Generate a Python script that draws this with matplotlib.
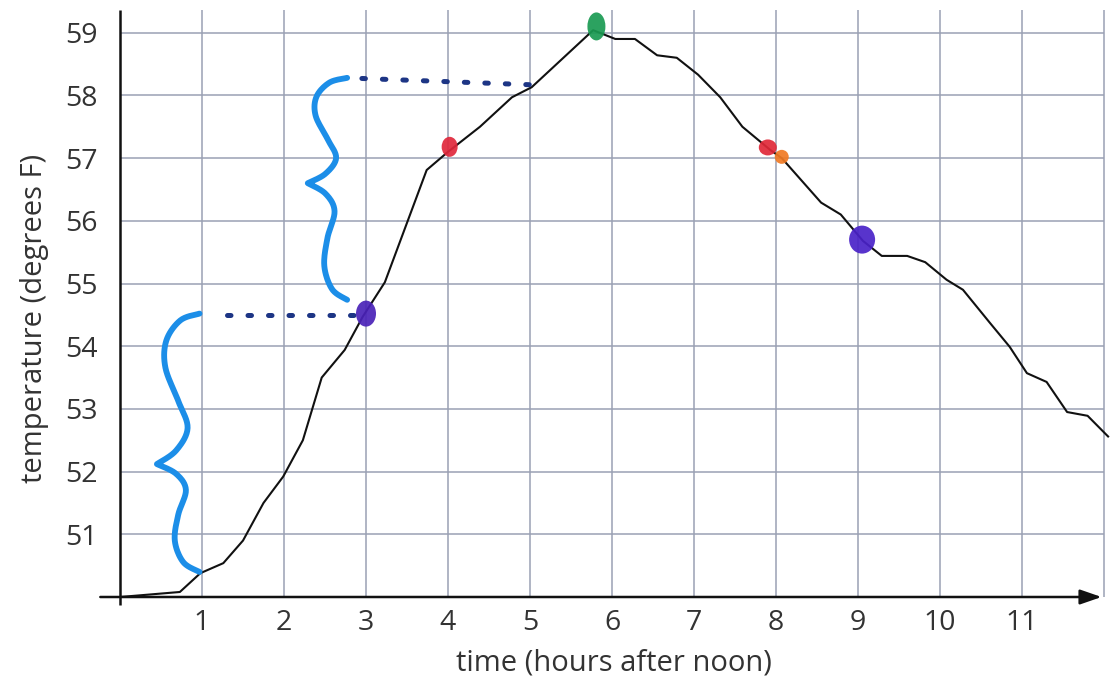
import numpy as np
import matplotlib
matplotlib.use("Agg")
import matplotlib.pyplot as plt
from matplotlib.patches import Ellipse

plt.rcParams['font.family'] = ['Open Sans', 'DejaVu Sans']

# ---- data ----
time_h = [0.0, 0.73, 0.98, 1.26, 1.5, 1.75, 1.99, 2.23, 2.46, 2.74, 2.96, 3.23,
          3.74, 4.0, 4.39, 4.78, 5.02, 5.77, 6.04, 6.28, 6.55, 6.79, 7.05, 7.32,
          7.59, 7.93, 8.07, 8.55, 8.79, 9.06, 9.29, 9.6, 9.82, 10.08, 10.28,
          10.61, 10.85, 11.06, 11.3, 11.55, 11.8, 12.05]
temp_f = [50.0, 50.08, 50.38, 50.54, 50.9, 51.5, 51.92, 52.5, 53.5, 53.94, 54.47, 55.02,
          56.81, 57.1, 57.5, 57.97, 58.13, 59.04, 58.9, 58.9, 58.64, 58.6, 58.33, 57.97,
          57.5, 57.13, 57.0, 56.29, 56.1, 55.68, 55.44, 55.44, 55.34, 55.06, 54.9,
          54.37, 53.99, 53.57, 53.43, 52.95, 52.89, 52.56]

x_ticks = [1, 2, 3, 4, 5, 6, 7, 8, 9, 10, 11]
y_ticks = [51, 52, 53, 54, 55, 56, 57, 58, 59]

# highlighted points: x, y, colour, width(px), height(px)
dot_x = [3.0, 9.05, 4.02, 7.9, 8.07, 5.81]
dot_y = [54.52, 55.7, 57.18, 57.17, 57.02, 59.1]
dot_colors = ['#4a22b8', '#4a22c8', '#e0283c', '#e02838', '#f07a24', '#1a9a52']
dot_w = [20, 26, 16, 18, 14, 18]
dot_h = [26, 28, 20, 16, 14, 28]

# braces: bottom, top, x of ends, x of tip, y of tip
brace_bottom = [50.4, 54.74]
brace_top = [54.52, 58.28]
brace_end_x = [0.97, 2.77]
brace_tip_x = [0.45, 2.29]
brace_tip_y = [52.12, 56.6]

# dotted guide lines: x0, x1, y0, y1
guide_x0 = [1.3, 2.95]
guide_x1 = [2.88, 5.0]
guide_y0 = [54.5, 58.27]
guide_y1 = [54.5, 58.17]

# ---- figure ----
W, H = 1110, 686
fig = plt.figure(figsize=(W / 100, H / 100), dpi=100)
x0px, x1px, ybot, ytop = 120, 1110, 597, 10
ax = fig.add_axes([x0px / W, (H - ybot) / H, (x1px - x0px) / W, (ybot - ytop) / H])
px_x = 82.0
px_y = 62.7
ax.set_xlim(0, (x1px - x0px) / px_x)
ax.set_ylim(50, 50 + (ybot - ytop) / px_y)
for s in ax.spines.values():
    s.set_visible(False)

grid_c = '#9aa1b4'
ax.vlines(list(range(1, 13)), 50, ax.get_ylim()[1], color=grid_c, lw=1.1, zorder=1)
ax.hlines(y_ticks, 0, 12.0, color=grid_c, lw=1.1, zorder=1)

# axes lines
ax.plot([0, 0], [50 - 8 / px_y, ax.get_ylim()[1]], color='#111111', lw=1.8,
        clip_on=False, zorder=3, solid_capstyle='butt')
ax.annotate('', xy=(11.97, 50), xytext=(-0.24, 50),
            arrowprops=dict(arrowstyle='-|>,head_length=1.3,head_width=0.45',
                            color='#111111', lw=1.8, shrinkA=0, shrinkB=0),
            annotation_clip=False, zorder=3)

ax.set_xticks(x_ticks)
ax.set_xticklabels([str(v) for v in x_ticks])
ax.set_yticks(y_ticks)
ax.set_yticklabels([str(v) for v in y_ticks])
ax.tick_params(axis='both', length=0, labelsize=20.5, labelcolor='#333333')
ax.tick_params(axis='x', pad=9)
ax.tick_params(axis='y', pad=16)

# temperature curve
ax.plot(time_h, temp_f, color='#111111', lw=1.5, zorder=4, solid_joinstyle='round')

# braces
def catmull(pts, n=20):
    pts = np.asarray(pts, float)
    P = np.vstack([pts[0], pts, pts[-1]])
    out = []
    for i in range(1, len(P) - 2):
        p0, p1, p2, p3 = P[i - 1], P[i], P[i + 1], P[i + 2]
        t = np.linspace(0, 1, n, endpoint=False)[:, None]
        out.append(0.5 * ((2 * p1) + (-p0 + p2) * t + (2 * p0 - 5 * p1 + 4 * p2 - p3) * t ** 2
                          + (-p0 + 3 * p1 - 3 * p2 + p3) * t ** 3))
    out.append(pts[-1:])
    return np.vstack(out)

# normalized half-brace templates (u: 0=tip side, 1=end side; v: 0=tip, 1=end)
upper = [(1.0, 1.0), (0.55, 0.955), (0.22, 0.82), (0.2, 0.64), (0.5, 0.42),
         (0.72, 0.24), (0.45, 0.09), (0.0, 0.0)]
lower = [(0.0, 0.0), (0.45, 0.09), (0.68, 0.24), (0.5, 0.47), (0.42, 0.71),
         (0.62, 0.91), (1.0, 1.0)]
for b0, b1, xe, xt, yt in zip(brace_bottom, brace_top, brace_end_x, brace_tip_x, brace_tip_y):
    cu = catmull(upper, 18)
    cl = catmull(lower, 18)
    ux = xt + cu[:, 0] * (xe - xt)
    uy = yt + cu[:, 1] * (b1 - yt)
    lx = xt + cl[:, 0] * (xe - xt)
    ly = yt - cl[:, 1] * (yt - b0)
    bx = np.concatenate([ux, lx])
    by = np.concatenate([uy, ly])
    ax.plot(bx, by, color='#1c8ee8', lw=4.2, solid_capstyle='round',
            solid_joinstyle='round', zorder=5)

# dotted guides
for gx0, gx1, gy0, gy1 in zip(guide_x0, guide_x1, guide_y0, guide_y1):
    ax.plot([gx0, gx1], [gy0, gy1], color='#1d3585', lw=3.6,
            linestyle=(0, (0.7, 3.4)), dash_capstyle='round', zorder=5)

# highlighted dots
for x, y, c, w, h in zip(dot_x, dot_y, dot_colors, dot_w, dot_h):
    ax.add_patch(Ellipse((x, y), w / px_x, h / px_y, color=c, alpha=0.92, zorder=6,
                         clip_on=False, lw=0))

fig.text(614 / W, 1 - 663 / H, 'time (hours after noon)', ha='center', va='center',
         fontsize=21, color='#333333')
fig.text(35 / W, 1 - 318 / H, 'temperature (degrees F)', ha='center', va='center',
         rotation=90, fontsize=21, color='#333333')

fig.savefig('out.png', dpi=100, facecolor='white')
